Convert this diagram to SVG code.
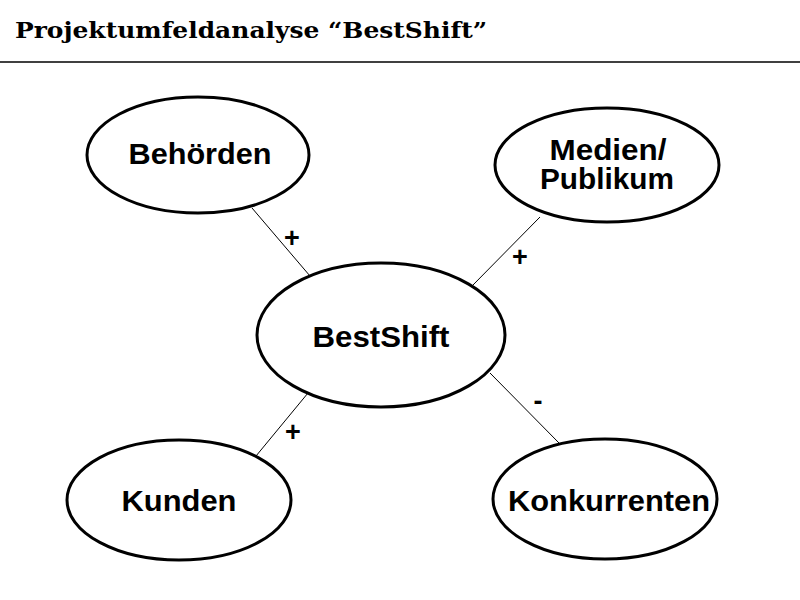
<svg xmlns="http://www.w3.org/2000/svg" width="800" height="600" viewBox="0 0 800 600">
<style>
.node ellipse{fill:#fff;stroke:#000;stroke-width:3}
.lbl{font-family:"Liberation Sans",Arial,sans-serif;font-weight:bold;font-size:29px;text-anchor:middle;fill:#000}
.sign{font-family:"Liberation Sans",Arial,sans-serif;font-weight:bold;font-size:27px;text-anchor:middle;fill:#000}
.conn line{stroke:#000;stroke-width:1}
</style>
<rect width="800" height="600" fill="#fff"/>
<text x="15" y="38" font-family="'DejaVu Serif','Liberation Serif',serif" font-weight="bold" font-size="21.5" textLength="472" lengthAdjust="spacingAndGlyphs">Projektumfeldanalyse “BestShift”</text>
<line x1="0" y1="62" x2="800" y2="62" stroke="#000" stroke-width="1.5"/>
<g id="connectors" class="conn">
<line x1="252" y1="208" x2="310" y2="276"/>
<line x1="540" y1="217" x2="472" y2="286"/>
<line x1="308" y1="393" x2="256" y2="456"/>
<line x1="490" y1="373" x2="559" y2="443"/>
</g>
<g id="labels">
<text class="sign" x="292" y="247">+</text>
<text class="sign" x="520" y="266">+</text>
<text class="sign" x="293" y="441">+</text>
<text class="sign" x="538" y="410">-</text>
</g>
<g id="bestshift" class="node"><ellipse cx="381" cy="335" rx="124" ry="72"/><text class="lbl" x="381" y="347" textLength="137" lengthAdjust="spacingAndGlyphs">BestShift</text></g>
<g id="behoerden" class="node"><ellipse cx="198" cy="155" rx="111" ry="58"/><text class="lbl" x="200" y="164" textLength="143" lengthAdjust="spacingAndGlyphs">Behörden</text></g>
<g id="medien" class="node"><ellipse cx="607" cy="165" rx="112" ry="57"/><text class="lbl" x="608" y="160" textLength="117" lengthAdjust="spacingAndGlyphs">Medien/</text><text class="lbl" x="607" y="189" textLength="134" lengthAdjust="spacingAndGlyphs">Publikum</text></g>
<g id="kunden" class="node"><ellipse cx="179" cy="500" rx="112" ry="60"/><text class="lbl" x="179" y="511" textLength="115" lengthAdjust="spacingAndGlyphs">Kunden</text></g>
<g id="konkurrenten" class="node"><ellipse cx="605" cy="499" rx="112" ry="60"/><text class="lbl" x="609" y="511" textLength="202" lengthAdjust="spacingAndGlyphs">Konkurrenten</text></g>
</svg>
